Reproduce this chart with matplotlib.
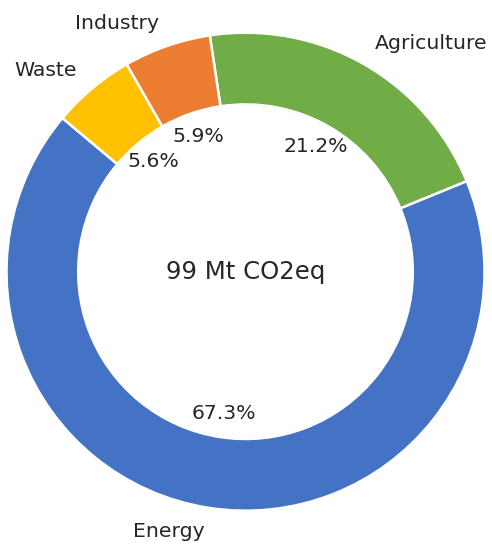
import matplotlib
matplotlib.use("Agg")
import matplotlib.pyplot as plt

# emissions by sector, share of total
sectors = ["Energy", "Agriculture", "Industry", "Waste"]
shares = [67.3, 21.2, 5.9, 5.6]
colors = ["#4472C4", "#70AD47", "#ED7D31", "#FFC000"]
total_label = "99 Mt CO2eq"

plt.rcParams["text.color"] = "#262626"

fig = plt.figure(figsize=(4.92, 5.44), dpi=100)
ax = fig.add_axes([0, 0, 1, 1])

wedges, texts, autotexts = ax.pie(
    shares, labels=sectors, colors=colors, startangle=140,
    autopct="%1.1f%%", pctdistance=0.6, labeldistance=1.1,
    wedgeprops=dict(width=0.3, edgecolor="white", linewidth=1.8),
    textprops=dict(fontsize=14.7),
)

ax.text(0, 0, total_label, ha="center", va="center", fontsize=17.6)

# place the ring: centre at (245.5, 271.7) px, radius 239 px
ax.set_aspect("auto")
ax.set_xlim(-245.5 / 239, (492 - 245.5) / 239)
ax.set_ylim(-(544 - 271.7) / 239, 271.7 / 239)
ax.axis("off")

fig.savefig("out.png", dpi=100)
